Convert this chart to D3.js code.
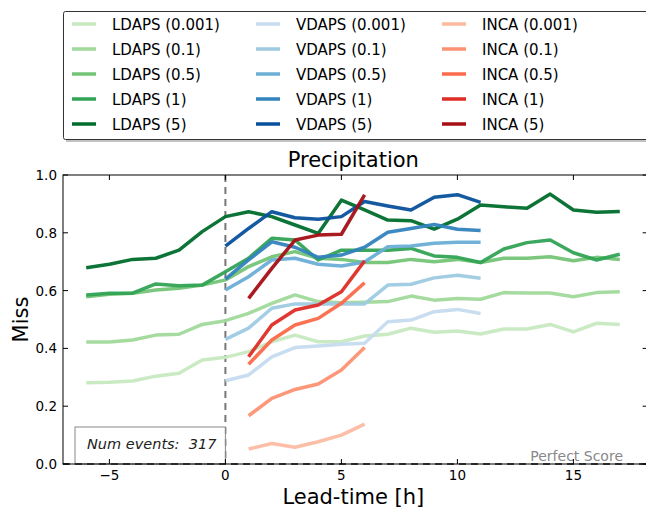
<!DOCTYPE html>
<html>
<head>
<meta charset="utf-8">
<script src="https://cdn.jsdelivr.net/npm/d3@7"></script>
<style>
  body { margin: 0; background: #fff; }
  svg { display: block; font-family: "DejaVu Sans", sans-serif; }
</style>
</head>
<body>
<div id="chart"></div>
<script>
const W = 646, H = 510;

// lead times for each model
const leadL = d3.range(-6, 18);
const leadV = d3.range(0, 12);
const leadI = d3.range(1, 7);

const thresholds = ["0.001", "0.1", "0.5", "1", "5"];

// Miss rate values
const ldaps001 = [0.281,0.283,0.287,0.304,0.314,0.36,0.369,0.389,0.423,0.446,0.423,0.423,0.443,0.449,0.47,0.456,0.46,0.45,0.467,0.467,0.483,0.457,0.487,0.483];
const ldaps01  = [0.422,0.422,0.429,0.446,0.449,0.483,0.496,0.521,0.556,0.585,0.562,0.558,0.56,0.562,0.581,0.567,0.573,0.57,0.593,0.592,0.592,0.579,0.593,0.596];
const ldaps05  = [0.579,0.587,0.591,0.602,0.608,0.619,0.637,0.683,0.717,0.735,0.712,0.708,0.697,0.697,0.708,0.7,0.708,0.697,0.712,0.712,0.717,0.703,0.715,0.708];
const ldaps1   = [0.585,0.591,0.591,0.623,0.617,0.619,0.665,0.712,0.781,0.775,0.706,0.74,0.74,0.74,0.746,0.72,0.715,0.697,0.744,0.766,0.775,0.731,0.706,0.726];
const ldaps5   = [0.679,0.691,0.708,0.712,0.74,0.804,0.856,0.873,0.856,0.827,0.798,0.913,0.879,0.844,0.842,0.813,0.847,0.896,0.89,0.885,0.934,0.879,0.871,0.874];

const vdaps001 = [0.288,0.308,0.371,0.403,0.408,0.414,0.418,0.492,0.498,0.527,0.535,0.521];
const vdaps01  = [0.431,0.47,0.539,0.554,0.554,0.554,0.554,0.619,0.622,0.644,0.653,0.643];
const vdaps05  = [0.602,0.648,0.706,0.712,0.691,0.685,0.699,0.752,0.754,0.764,0.767,0.767];
const vdaps1   = [0.64,0.706,0.769,0.75,0.715,0.723,0.75,0.802,0.815,0.829,0.812,0.808];
const vdaps5   = [0.754,0.815,0.873,0.852,0.847,0.856,0.908,0.893,0.879,0.923,0.932,0.905];

const inca001 = [0.052,0.071,0.058,0.077,0.1,0.138];
const inca01  = [0.167,0.227,0.258,0.277,0.325,0.403];
const inca05  = [0.345,0.429,0.481,0.504,0.556,0.627];
const inca1   = [0.371,0.481,0.533,0.55,0.596,0.703];
const inca5   = [0.573,0.677,0.775,0.792,0.795,0.931];

const xTicks = [-5, 0, 5, 10, 15];
const yTicks = [0, 0.2, 0.4, 0.6, 0.8, 1.0];
const numEvents = 317;

const models = [
  { name: "LDAPS", lead: leadL, series: [ldaps001, ldaps01, ldaps05, ldaps1, ldaps5],
    colors: ["#c7e9c0", "#a1d99b", "#74c476", "#31a354", "#006d2c"] },
  { name: "VDAPS", lead: leadV, series: [vdaps001, vdaps01, vdaps05, vdaps1, vdaps5],
    colors: ["#c6dbef", "#9ecae1", "#6baed6", "#3182bd", "#08519c"] },
  { name: "INCA", lead: leadI, series: [inca001, inca01, inca05, inca1, inca5],
    colors: ["#fcbba1", "#fc9272", "#fb6a4a", "#de2d26", "#a50f15"] }
];

const margin = { top: 175, right: 0, bottom: 46, left: 63 };
const plotH = H - margin.top - margin.bottom;

const svg = d3.select("#chart").append("svg")
    .attr("width", W).attr("height", H);

const x = d3.scaleLinear().domain([-7, 18.2]).range([margin.left, margin.left + 25.2 * 23.2]);
const y = d3.scaleLinear().domain([0, 1]).range([margin.top + plotH, margin.top]);

// vertical line at lead-time 0
svg.append("line")
    .attr("x1", x(0)).attr("x2", x(0))
    .attr("y1", y(1)).attr("y2", y(0))
    .attr("stroke", "#777").attr("stroke-width", 2)
    .attr("stroke-dasharray", "7,5");

// lines
const line = d3.line().x(d => x(d[0])).y(d => y(d[1]));
models.forEach(m => {
    m.series.forEach((s, i) => {
        svg.append("path")
            .datum(s.map((v, j) => [m.lead[j], v]))
            .attr("d", line)
            .attr("fill", "none")
            .attr("stroke", m.colors[i])
            .attr("stroke-width", 3.5)
            .attr("stroke-opacity", 0.95)
            .attr("stroke-linejoin", "round");
    });
});

// Num events box
const ne = svg.append("g");
ne.append("rect")
    .attr("x", 75).attr("y", 427)
    .attr("width", x(0) - 75).attr("height", y(0) - 427)
    .attr("fill", "white").attr("fill-opacity", 0.8)
    .attr("stroke", "#888").attr("stroke-width", 1);
ne.append("text")
    .attr("x", 87).attr("y", 449)
    .attr("font-size", 14.5).attr("font-style", "italic")
    .attr("fill", "#222")
    .attr("xml:space", "preserve")
    .text(`Num events:  ${numEvents}`);

// perfect score line and label
svg.append("line")
    .attr("x1", margin.left).attr("x2", W)
    .attr("y1", y(0)).attr("y2", y(0))
    .attr("stroke", "#555").attr("stroke-width", 2)
    .attr("stroke-dasharray", "7,5");
svg.append("text")
    .attr("x", 623).attr("y", y(0) - 3)
    .attr("text-anchor", "end")
    .attr("font-size", 14)
    .attr("fill", "#888")
    .text("Perfect Score");

// axes frame
const x0 = x.range()[0], x1 = x.range()[1], yT = y(1), yB = y(0);
svg.append("rect")
    .attr("x", x0).attr("y", yT)
    .attr("width", x1 - x0).attr("height", yB - yT)
    .attr("fill", "none").attr("stroke", "#000").attr("stroke-width", 1);

// ticks (inward, all sides)
const tickG = svg.append("g").attr("stroke", "#000").attr("stroke-width", 1);
xTicks.forEach(t => {
    tickG.append("line").attr("x1", x(t)).attr("x2", x(t)).attr("y1", yB).attr("y2", yB - 5);
    tickG.append("line").attr("x1", x(t)).attr("x2", x(t)).attr("y1", yT).attr("y2", yT + 5);
});
yTicks.forEach(t => {
    tickG.append("line").attr("x1", x0).attr("x2", x0 + 5).attr("y1", y(t)).attr("y2", y(t));
    tickG.append("line").attr("x1", x1).attr("x2", x1 - 5).attr("y1", y(t)).attr("y2", y(t));
});

// tick labels
svg.append("g").selectAll("text").data(xTicks).join("text")
    .attr("x", d => x(d)).attr("y", yB + 16)
    .attr("text-anchor", "middle").attr("font-size", 13.5)
    .text(d => d < 0 ? "\u2212" + Math.abs(d) : d);
svg.append("g").selectAll("text").data(yTicks).join("text")
    .attr("x", x0 - 6).attr("y", d => y(d) + 5)
    .attr("text-anchor", "end").attr("font-size", 13.5)
    .text(d => d3.format(".1f")(d));

// titles
svg.append("text")
    .attr("x", (x0 + x1) / 2 - 2).attr("y", 167)
    .attr("text-anchor", "middle").attr("font-size", 21)
    .text("Precipitation");
svg.append("text")
    .attr("x", (x0 + x1) / 2 - 2).attr("y", 504)
    .attr("text-anchor", "middle").attr("font-size", 21)
    .text("Lead-time [h]");
svg.append("text")
    .attr("transform", `translate(28,${(yT + yB) / 2}) rotate(-90)`)
    .attr("text-anchor", "middle").attr("font-size", 21)
    .text("Miss");

// legend
const leg = svg.append("g");
leg.append("rect")
    .attr("x", 66).attr("y", 14).attr("width", 600).attr("height", 128)
    .attr("fill", "#999").attr("fill-opacity", 0.6);
leg.append("rect")
    .attr("x", 63.5).attr("y", 11.5).attr("width", 600).attr("height", 128)
    .attr("fill", "white").attr("stroke", "#333").attr("stroke-width", 1).attr("rx", 2);

const colX = [72, 256, 442];
models.forEach((m, c) => {
    thresholds.forEach((th, r) => {
        const ly = 24 + r * 25;
        leg.append("line")
            .attr("x1", colX[c]).attr("x2", colX[c] + 24)
            .attr("y1", ly).attr("y2", ly)
            .attr("stroke", m.colors[r]).attr("stroke-width", 3.5);
        leg.append("text")
            .attr("x", colX[c] + 40).attr("y", ly + 5.5)
            .attr("font-size", 15)
            .text(`${m.name} (${th})`);
    });
});
</script>
</body>
</html>
